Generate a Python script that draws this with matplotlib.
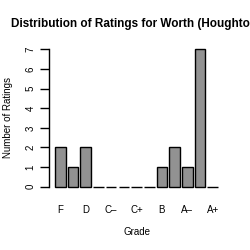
import matplotlib
matplotlib.use("Agg")
import matplotlib.pyplot as plt
import numpy as np

categories = ["F", "D-", "D", "D+", "C-", "C", "C+", "B-", "B", "B+", "A-", "A", "A+"]
counts = [2, 1, 2, 0, 0, 0, 0, 0, 1, 2, 1, 7, 0]
shown_labels = ["F", "D", "C\u2013", "C+", "B", "A\u2013", "A+"]
yticks = [0, 1, 2, 3, 4, 5, 6, 7]

plt.rcParams['font.family'] = ['Liberation Sans', 'DejaVu Sans']

fig = plt.figure(figsize=(2.5, 2.5), dpi=100)
ax = fig.add_axes([0.196, 0.2312, 0.704, 0.5936])

x = np.arange(len(categories)) * 1.2
ax.bar(x, counts, width=1.0, color='#929292', edgecolor='black', linewidth=1.0)

ax.set_xlim(-1.067, 15.56)
ax.set_ylim(-0.28, 7.28)

for s in ['top', 'right', 'bottom']:
    ax.spines[s].set_visible(False)
ax.spines['left'].set_bounds(0, 7)
ax.spines['left'].set_linewidth(1.0)

ax.set_yticks(yticks)
ax.set_yticklabels([str(v) for v in yticks], rotation=90, va='center', fontsize=7)
ax.tick_params(axis='y', length=6.5, width=1.0, pad=3)

ax.set_xticks(x[::2])
ax.set_xticklabels(shown_labels, fontsize=7)
ax.tick_params(axis='x', length=0, pad=9)

ax.set_xlabel("Grade", fontsize=7, labelpad=9)
ax.set_ylabel("Number of Ratings", fontsize=7, labelpad=9)

fig.text(0.545, 0.905, "Distribution of Ratings for Worth (Houghton)",
         ha='center', va='center', fontsize=8.5, fontweight='bold')

fig.savefig("out.png", dpi=100)
